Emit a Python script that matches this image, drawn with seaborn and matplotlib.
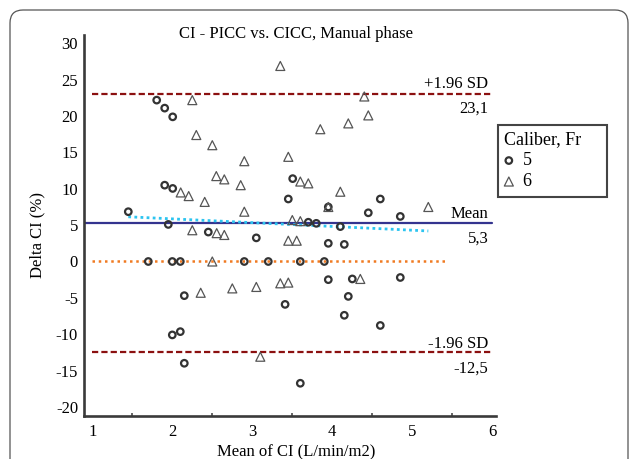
import numpy as np
import pandas as pd
import matplotlib
matplotlib.use('Agg')
import matplotlib.pyplot as plt
import seaborn as sns
from matplotlib.patches import FancyBboxPatch
from matplotlib.ticker import MultipleLocator

# --------------values--------------
# caliber 5 Fr (open circles)
c5_mean = [1.45, 1.805, 1.905, 2.005, 1.905, 2.005, 1.95, 2.45, 3.05, 3.45,
           3.505, 3.95, 4.6, 4.45, 4.85, 3.7, 3.8, 4.1, 3.95, 4.15,
           1.70, 2.0, 2.1, 2.9, 3.2, 3.6, 3.9, 2.15, 2.0, 2.1,
           2.15, 3.41, 3.6, 3.95, 4.25, 4.85, 4.2, 4.15, 4.6]
c5_delta = [6.85, 22.2, 21.1, 19.9, 10.5, 10.05, 5.1, 4.05, 3.25, 8.6,
            11.4, 7.5, 8.6, 6.7, 6.2, 5.4, 5.25, 4.8, 2.5, 2.35,
            0, 0, 0, 0, 0, 0, 0, -4.7, -10.1, -9.65,
            -14.0, -5.9, -16.75, -2.5, -2.4, -2.2, -4.8, -7.4, -8.8]

# caliber 6 Fr (open triangles)
c6_mean = [3.35, 2.25, 2.3, 2.5, 2.9, 3.45, 2.55, 2.65, 2.855, 2.105,
           2.205, 2.405, 2.9, 3.6, 3.7, 3.5, 3.6, 2.25, 2.555, 2.65,
           4.4, 4.45, 4.2, 3.85, 4.1, 5.2, 3.95, 3.45, 3.555, 2.5,
           2.355, 2.75, 3.05, 3.35, 3.45, 3.1, 4.35]
c6_delta = [26.9, 22.2, 17.4, 16.0, 13.8, 14.4, 11.75, 11.3, 10.5, 9.5,
            9.0, 8.2, 6.85, 11.0, 10.75, 5.7, 5.55, 4.3, 3.9, 3.65,
            22.7, 20.1, 19.0, 18.2, 9.6, 7.5, 7.5, 2.86, 2.86, 0,
            -4.3, -3.7, -3.5, -3.0, -2.9, -13.1, -2.4]

mean_diff = 5.3
upper_loa = 23.1
lower_loa = -12.5
reg_x = [1.45, 5.2]
reg_y = [6.15, 4.2]
zero_x = [1.0, 5.41]
sd_x = [1.0, 6.0]
mean_x = [0.9, 6.0]

x_ticks = [1, 2, 3, 4, 5, 6]
y_ticks = [-20, -15, -10, -5, 0, 5, 10, 15, 20, 25, 30]

df = pd.DataFrame({
    'mean_ci': c5_mean + c6_mean,
    'delta_ci': c5_delta + c6_delta,
    'caliber': ['5'] * len(c5_mean) + ['6'] * len(c6_mean),
})

# ------------------style------------------
sns.set_theme(style='white')
plt.rcParams['font.family'] = ['Liberation Serif', 'DejaVu Serif']
plt.rcParams['text.color'] = 'black'
plt.rcParams['axes.unicode_minus'] = False

W, H = 629, 459
fig = plt.figure(figsize=(W / 100, H / 100), dpi=100)
fig.patch.set_facecolor('white')

# outer rounded frame
frame = FancyBboxPatch((0.10, -0.3), 6.18, 4.79,
                       boxstyle='round,pad=0,rounding_size=0.13',
                       transform=fig.dpi_scale_trans, facecolor='none',
                       edgecolor='#555555', linewidth=0.9)
fig.patches.append(frame)

ax = fig.add_axes([84.3 / W, 1 - 415.6 / H, 412 / W, 380.9 / H])
ax.set_facecolor('white')

# ------------------reference lines------------------
ax.plot(sd_x, [upper_loa] * 2, color='#8b1010', lw=1.6, ls=(0, (2.8, 1.4)), zorder=2)
ax.plot(sd_x, [lower_loa] * 2, color='#8b1010', lw=1.6, ls=(0, (2.8, 1.4)), zorder=2)
ax.plot(mean_x, [mean_diff] * 2, color='#34348f', lw=1.6, zorder=2)
ax.plot(zero_x, [0, 0], color='#f07a22', lw=1.8, ls=(0, (1, 1.5)), zorder=2)
ax.plot(reg_x, reg_y, color='#2cc4f0', lw=2.0, ls=(0, (1, 1.2)), zorder=2)

# ------------------points------------------
sns.scatterplot(data=df[df['caliber'] == '5'], x='mean_ci', y='delta_ci',
                marker='o', s=22, color='#333333', facecolor='none',
                edgecolor='#333333', linewidth=1.6, label='5', ax=ax, zorder=3)
sns.scatterplot(data=df[df['caliber'] == '6'], x='mean_ci', y='delta_ci',
                marker='^', s=42, color='#555555', facecolor='none',
                edgecolor='#555555', linewidth=0.9, label='6', ax=ax, zorder=3)

# ------------------annotations------------------
tx = 5.95
ax.text(tx, upper_loa + 0.75, '+1.96 SD', ha='right', va='baseline', fontsize=12)
ax.text(tx, upper_loa - 2.65, '23,1', ha='right', va='baseline', fontsize=12)
ax.text(tx, mean_diff + 0.65, 'Mean', ha='right', va='baseline', fontsize=12)
ax.text(tx, mean_diff - 2.75, '5,3', ha='right', va='baseline', fontsize=12)
ax.text(tx, lower_loa + 0.6, '-1.96 SD', ha='right', va='baseline', fontsize=12)
ax.text(tx, lower_loa - 2.8, '-12,5', ha='right', va='baseline', fontsize=12)

# ------------------axes------------------
ax.set_xlim(0.9, 6.05)
ax.set_ylim(-21.2, 31.2)
ax.set_xticks(x_ticks)
ax.set_yticks(y_ticks)
ax.xaxis.set_minor_locator(MultipleLocator(0.5))
ax.set_xlabel('')
ax.set_ylabel('')
for side in ['top', 'right']:
    ax.spines[side].set_visible(False)
for side in ['left', 'bottom']:
    ax.spines[side].set_color('#3a3a3a')
    ax.spines[side].set_linewidth(1.9)
ax.tick_params(axis='both', which='major', direction='in', length=4.5,
               width=1.3, color='#3a3a3a', labelsize=12, labelcolor='black')
ax.tick_params(axis='x', which='major', pad=6)
ax.tick_params(axis='y', which='major', pad=4.5)
ax.tick_params(axis='x', which='minor', direction='in', length=2.5,
               width=1.1, color='#3a3a3a', bottom=True)

fig.text(296 / W, 1 - 38.5 / H, 'CI - PICC vs. CICC, Manual phase',
         ha='center', va='baseline', fontsize=12)
fig.text(37 / W, 1 - 235 / H, 'Delta CI (%)', rotation=90,
         ha='center', va='center', fontsize=12)
fig.text(296 / W, 3 / H, 'Mean of CI (L/min/m2)',
         ha='center', va='baseline', fontsize=12)

# legend box spans a fixed width, as in the reference
leg = ax.legend(title='Caliber, Fr', loc='upper left', mode='expand',
                bbox_to_anchor=(498 / W, 1 - 195 / H, 109 / W, 70 / H),
                bbox_transform=fig.transFigure, frameon=True, fancybox=False,
                edgecolor='#444444', framealpha=1, fontsize=13,
                title_fontsize=13, alignment='left', handlelength=0.5,
                handletextpad=0.5, borderpad=0.35, labelspacing=0.22,
                borderaxespad=0)
leg.get_frame().set_linewidth(1.5)

fig.savefig('out.png', dpi=100)
